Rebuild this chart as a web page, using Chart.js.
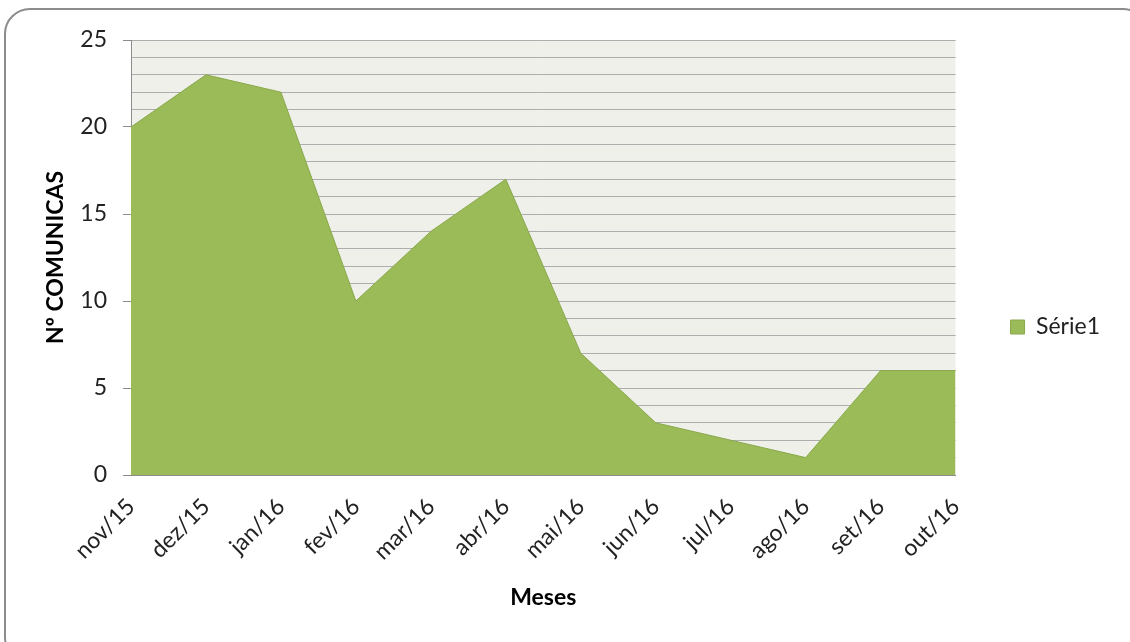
<!DOCTYPE html>
<html>
<head>
<meta charset="utf-8">
<script src="https://cdn.jsdelivr.net/npm/chart.js"></script>
<style>
    html, body { margin: 0; padding: 0; background: #fff; overflow: hidden; }
    #wrap { position: relative; width: 1130px; height: 642px; overflow: hidden; }
    #frame { position: absolute; left: 4px; top: 8px; width: 1145px; height: 655px;
             border: 2px solid #8c8c8c; border-radius: 26px; box-sizing: border-box; }
    #myChart { position: absolute; left: 0; top: 0; }
</style>
</head>
<body>
<div id="wrap">
    <div id="frame"></div>
    <canvas id="myChart" width="1130" height="642"></canvas>
</div>
<script>
        // setup
        const labels = [
            'nov/15', 'dez/15', 'jan/16', 'fev/16', 'mar/16', 'abr/16',
            'mai/16', 'jun/16', 'jul/16', 'ago/16', 'set/16', 'out/16',
        ];
        const comunicas = [20, 23, 22, 10, 14, 17, 7, 3, 2, 1, 6, 6];
        const yMin = 0;
        const yMax = 25;
        const yMajorStep = 5;

        const fontFamily = 'Lato, "Open Sans", sans-serif';

        const data = {
            labels: labels,
            datasets: [{
                label: 'Série1',
                data: comunicas,
                backgroundColor: '#9bbb59',
                borderColor: '#89a84c',
                borderWidth: 1,
                fill: 'origin',
                tension: 0,
                pointRadius: 0,
            }]
        };

        // plot area background
        const plotBg = {
            id: 'plotBg',
            beforeDraw(chart) {
                const { ctx, chartArea: a } = chart;
                ctx.save();
                ctx.fillStyle = '#eff0e9';
                ctx.fillRect(a.left, a.top, a.right - a.left, a.bottom - a.top);
                ctx.restore();
            }
        };

        // config
        const config = {
            type: 'line',
            data,
            plugins: [plotBg],
            options: {
                responsive: false,
                animation: false,
                layout: {
                    padding: { top: 40, left: 30, right: 20, bottom: 28 }
                },
                scales: {
                    x: {
                        offset: false,
                        grid: { display: false, drawTicks: false },
                        border: { color: '#8c8c8c', width: 1 },
                        ticks: {
                            color: '#222',
                            font: { family: fontFamily, size: 23 },
                            minRotation: 45,
                            maxRotation: 45,
                            padding: 18,
                            autoSkip: false,
                        },
                        title: {
                            display: true,
                            text: 'Meses',
                            color: '#000',
                            font: { family: fontFamily, size: 23, weight: 'bold' },
                            padding: { top: 3, bottom: 3 },
                        },
                        afterFit(scale) { scale.height = 642 - 475 - 28; }
                    },
                    y: {
                        min: yMin,
                        max: yMax,
                        grid: {
                            color: '#adadad',
                            lineWidth: 1,
                            tickLength: 8,
                            tickColor: (c) => (c.tick && c.tick.value % yMajorStep === 0) ? '#8c8c8c' : 'rgba(0,0,0,0)',
                        },
                        border: { color: '#8c8c8c', width: 1 },
                        ticks: {
                            stepSize: 1,
                            autoSkip: false,
                            maxTicksLimit: 100,
                            color: '#222',
                            font: { family: fontFamily, size: 23 },
                            padding: 16,
                            callback: (v) => v % yMajorStep === 0 ? v : '',
                        },
                        title: {
                            display: true,
                            text: 'Nº COMUNICAS',
                            color: '#000',
                            font: { family: fontFamily, size: 23, weight: 'bold' },
                            padding: { top: 12, bottom: 0 },
                        },
                        afterFit(scale) { scale.width = 131 - 30; }
                    }
                },
                plugins: {
                    tooltip: { enabled: false },
                    legend: {
                        position: 'right',
                        labels: {
                            color: '#222',
                            font: { family: fontFamily, size: 23 },
                            boxWidth: 14,
                            boxHeight: 14,
                            padding: 55,
                        }
                    }
                }
            }
        };

        var myChart = new Chart(
            document.getElementById('myChart'),
            config
        );
</script>
</body>
</html>
